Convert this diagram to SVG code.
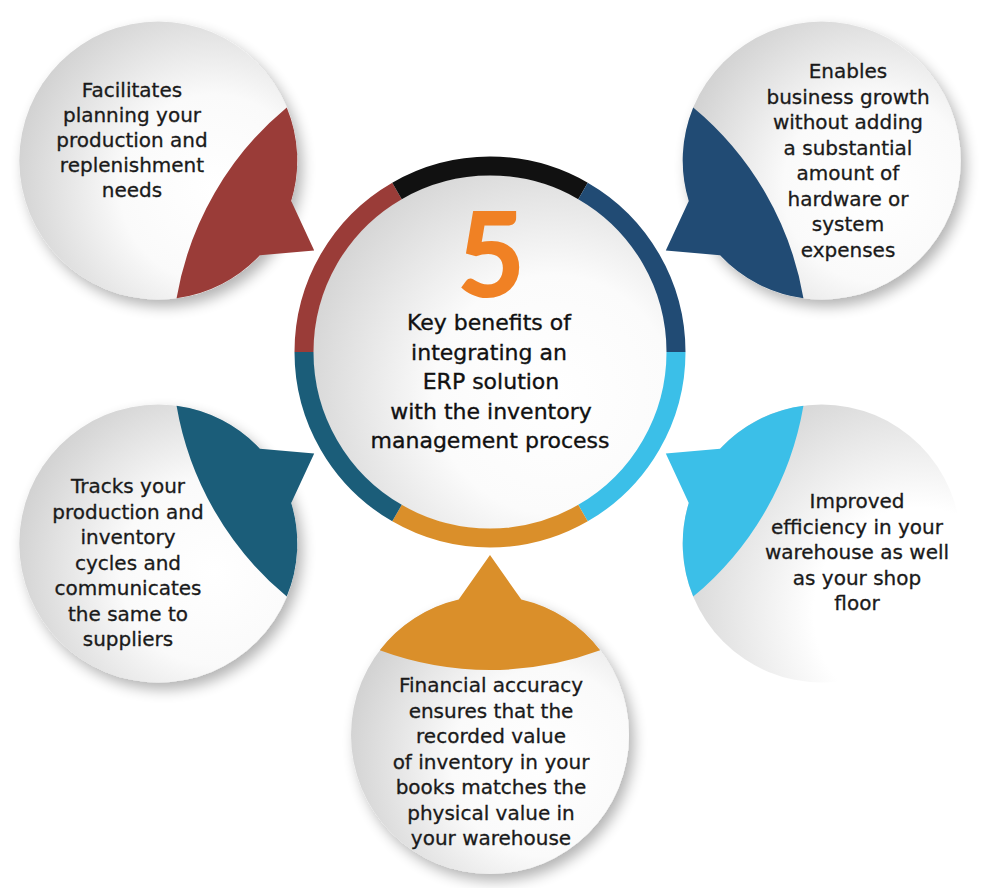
<svg xmlns="http://www.w3.org/2000/svg" xmlns:xlink="http://www.w3.org/1999/xlink" width="1000" height="888" viewBox="0 0 1000 888">
<style>
.t{font-family:"DejaVu Sans","Liberation Sans",sans-serif;font-size:20px;fill:#1a1a1a;stroke:#1a1a1a;stroke-width:0.3;text-anchor:middle}
.tc{font-family:"DejaVu Sans","Liberation Sans",sans-serif;font-size:22px;fill:#111;stroke:#111;stroke-width:0.35;text-anchor:middle}
.five{font-family:Lato,"Open Sans",sans-serif;font-weight:900;font-size:118px;fill:#f08124;text-anchor:middle}
.seg{fill:none;stroke-width:19}
</style>
<defs>
<radialGradient id="cg" cx="0.7" cy="0.6" r="0.75">
<stop offset="0" stop-color="#ffffff"/>
<stop offset="0.45" stop-color="#fafafa"/>
<stop offset="1" stop-color="#cfcfcf"/>
</radialGradient>
<radialGradient id="fg" cx="0.85" cy="0.75" r="0.9">
<stop offset="0" stop-color="#ffffff"/>
<stop offset="0.42" stop-color="#ffffff"/>
<stop offset="1" stop-color="#d4d4d4"/>
</radialGradient>
<radialGradient id="ig" cx="0.68" cy="0.62" r="0.75">
<stop offset="0" stop-color="#ffffff"/>
<stop offset="0.45" stop-color="#fbfbfb"/>
<stop offset="1" stop-color="#d2d2d2"/>
</radialGradient>
<filter id="sh" x="-20%" y="-20%" width="150%" height="150%">
<feGaussianBlur in="SourceAlpha" stdDeviation="7"/>
<feOffset dx="5" dy="7" result="b"/>
<feComponentTransfer><feFuncA type="linear" slope="0.3"/></feComponentTransfer>
<feMerge><feMergeNode/><feMergeNode in="SourceGraphic"/></feMerge>
</filter>
<path id="lune" d="M600.2,650.3 A139,139 0 0 0 521.3,599.6 L490,555 L458.7,599.6 A139,139 0 0 0 379.8,650.3 A318,318 0 0 0 600.2,650.3 Z"/>
</defs>
<rect width="1000" height="888" fill="#ffffff"/>

<g id="node-planning">
<circle cx="158.3" cy="160.5" r="139" fill="url(#cg)" filter="url(#sh)"/>
<text class="t"><tspan x="132" y="97">Facilitates</tspan><tspan x="132" y="122">planning your</tspan><tspan x="132" y="147">production and</tspan><tspan x="132" y="172">replenishment</tspan><tspan x="132" y="197">needs</tspan></text>
</g>

<g id="node-growth">
<circle cx="821.7" cy="160.5" r="139" fill="url(#cg)" filter="url(#sh)"/>
<text class="t"><tspan x="848" y="78">Enables</tspan><tspan x="848" y="103.5">business growth</tspan><tspan x="848" y="129">without adding</tspan><tspan x="848" y="154.5">a substantial</tspan><tspan x="848" y="180">amount of</tspan><tspan x="848" y="205.5">hardware or</tspan><tspan x="848" y="231">system</tspan><tspan x="848" y="256.5">expenses</tspan></text>
</g>

<g id="node-tracking">
<circle cx="158.3" cy="543.5" r="139" fill="url(#cg)" filter="url(#sh)"/>
<text class="t"><tspan x="128" y="493">Tracks your</tspan><tspan x="128" y="518.5">production and</tspan><tspan x="128" y="544">inventory</tspan><tspan x="128" y="569.5">cycles and</tspan><tspan x="128" y="595">communicates</tspan><tspan x="128" y="620.5">the same to</tspan><tspan x="128" y="646">suppliers</tspan></text>
</g>

<g id="node-efficiency">
<circle cx="821.7" cy="543.5" r="139" fill="url(#fg)"/>
<text class="t"><tspan x="857" y="508">Improved</tspan><tspan x="857" y="533.5">efficiency in your</tspan><tspan x="857" y="559">warehouse as well</tspan><tspan x="857" y="584.5">as your shop</tspan><tspan x="857" y="610">floor</tspan></text>
</g>

<g id="node-financial">
<circle cx="490" cy="735" r="139" fill="url(#cg)" filter="url(#sh)"/>
<text class="t"><tspan x="491" y="692">Financial accuracy</tspan><tspan x="491" y="717.5">ensures that the</tspan><tspan x="491" y="743">recorded value</tspan><tspan x="491" y="768.5">of inventory in your</tspan><tspan x="491" y="794">books matches the</tspan><tspan x="491" y="819.5">physical value in</tspan><tspan x="491" y="845">your warehouse</tspan></text>
</g>

<g id="connectors">
<use xlink:href="#lune" href="#lune" fill="#9a3c38" transform="rotate(120 490 352)"/>
<use xlink:href="#lune" href="#lune" fill="#214b74" transform="rotate(240 490 352)"/>
<use xlink:href="#lune" href="#lune" fill="#1b5d79" transform="rotate(60 490 352)"/>
<use xlink:href="#lune" href="#lune" fill="#3bbfe8" transform="rotate(-60 490 352)"/>
<use xlink:href="#lune" href="#lune" fill="#da8f2a"/>
</g>

<g id="node-center">
<circle cx="490" cy="352" r="177" fill="url(#ig)"/>
<path class="seg" stroke="#3bbfe8" d="M676,352 A186,186 0 0 1 583,513.1"/>
<path class="seg" stroke="#da8f2a" d="M583,513.1 A186,186 0 0 1 397,513.1"/>
<path class="seg" stroke="#1b5d79" d="M397,513.1 A186,186 0 0 1 304,352"/>
<path class="seg" stroke="#9a3c38" d="M304,352 A186,186 0 0 1 397,190.9"/>
<path class="seg" stroke="#111111" d="M397,190.9 A186,186 0 0 1 583,190.9"/>
<path class="seg" stroke="#214b74" d="M583,190.9 A186,186 0 0 1 676,352"/>
<text class="five" x="491" y="297">5</text>
<text class="tc"><tspan x="489" y="330">Key benefits of</tspan><tspan x="489" y="359.5">integrating an</tspan><tspan x="491" y="389">ERP solution</tspan><tspan x="491" y="418.5">with the inventory</tspan><tspan x="490" y="448">management process</tspan></text>
</g>
</svg>
